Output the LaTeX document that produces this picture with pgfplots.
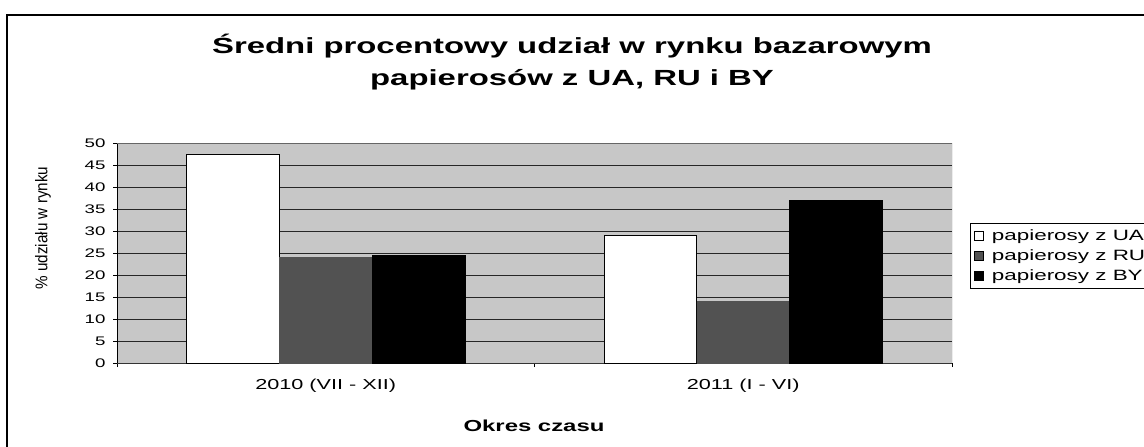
\documentclass[border=0pt]{standalone}
\usepackage{fontspec}
\setmainfont{Liberation Sans}[FakeStretch=1.5]
\newfontfamily\legfont{Liberation Sans}[FakeStretch=1.5]
\newfontfamily\condfont{Liberation Sans}[FakeStretch=0.9]
\usepackage{pgfplots}
\pgfplotsset{compat=1.18}
\pgfplotsset{
  sqlegend/.style={legend image code/.code={\draw[##1,draw=black,line width=0.6bp] (0bp,-4.5bp) rectangle (9bp,4.5bp);}}
}
\newcommand{\lf}{\legfont\fontsize{15}{17}\selectfont}
\begin{document}
\begin{tikzpicture}[x=1bp,y=1bp]
\path[use as bounding box] (0,0) rectangle (1144,-447);
\draw[line width=1.2bp] (7,-447) -- (7,-15) -- (1144,-15);
\node[align=center,font=\fontsize{22}{32}\selectfont\bfseries] at (572,-62) {Średni procentowy udział w rynku bazarowym\\papierosów z UA, RU i BY};
\node[rotate=90,font=\condfont\fontsize{17}{19}\selectfont] at (43,-228) {\% udziału w rynku};
\node[font=\fontsize{16}{18}\selectfont\bfseries] at (534,-426) {Okres czasu};
\begin{axis}[
  at={(117bp,-363bp)}, anchor=south west,
  scale only axis, width=835bp, height=220bp,
  xmin=0, xmax=2, ymin=0, ymax=50,
  ytick={0,5,...,50},
  xtick={0,1,2}, xticklabels={},
  extra x ticks={0.5,1.5},
  extra x tick labels={2010 (VII - XII),2011 (I - VI)},
  extra x tick style={major tick length=0pt, grid=none},
  ymajorgrids, grid style={black!85, line width=0.8bp},
  axis background/.style={fill=black!22},
  tick align=outside, major tick length=4bp,
  tick style={black, line width=0.6bp},
  separate axis lines,
  x axis line style={black!80, line width=0.8bp},
  y axis line style={black, line width=1bp},
  axis y line*=left, axis x line*=bottom,
  /pgf/number format/assume math mode=true,
  yticklabel style={font=\fontsize{12.5}{14}\selectfont, xshift=-4bp},
  xticklabel style={font=\fontsize{14.5}{16}\selectfont, yshift=-13bp},
  ybar, bar width=0.2222,
  legend style={at={(1.0216,0.636)}, anchor=north west, draw=black, line width=0.6bp,
    font=\lf, row sep=4bp, inner xsep=4bp, inner ysep=4bp,
    /tikz/every odd column/.append style={column sep=6bp}},
  legend cell align=left,
]
\draw[black!60, line width=0.6bp] (rel axis cs:0,1) -- (rel axis cs:1,1) -- (rel axis cs:1,0);
\addplot[sqlegend, fill=white, draw=black, line width=0.8bp, bar shift=-0.2222] coordinates {(0.5,47.5) (1.5,29)};
\addlegendentry{\lf papierosy z UA}
\addplot[sqlegend, fill=black!68, draw=black!68, bar shift=0] coordinates {(0.5,24) (1.5,14)};
\addlegendentry{\lf papierosy z RU}
\addplot[sqlegend, fill=black, draw=black, bar shift=0.2222] coordinates {(0.5,24.5) (1.5,37)};
\addlegendentry{\lf papierosy z BY}
\end{axis}
\end{tikzpicture}
\end{document}
